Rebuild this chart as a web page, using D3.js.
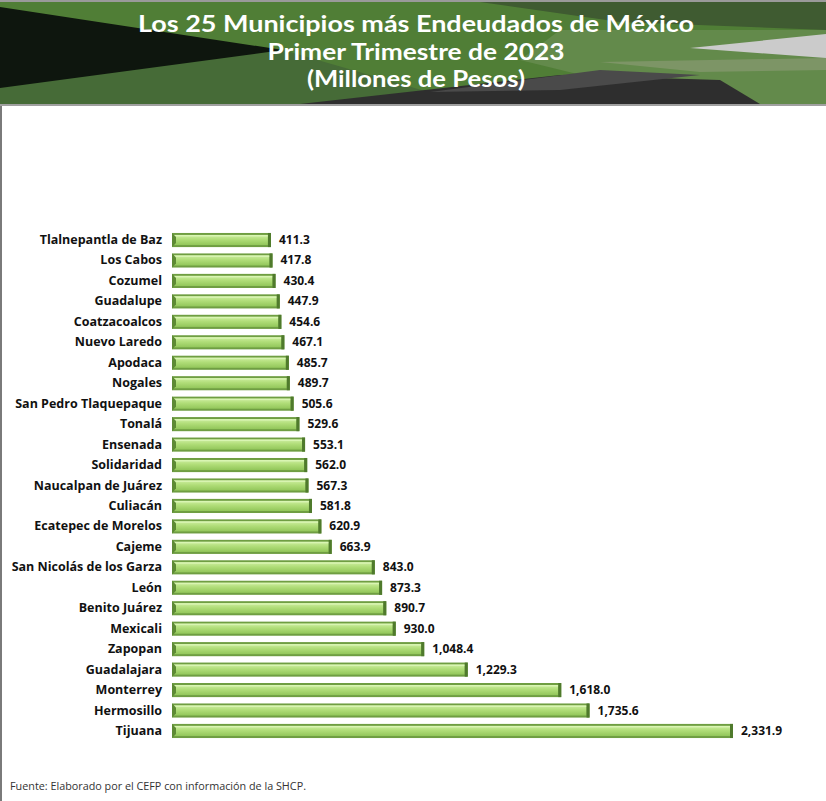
<!DOCTYPE html>
<html><head><meta charset="utf-8">
<script src="https://cdn.jsdelivr.net/npm/d3@7"></script>
<style>
html,body{margin:0;padding:0;background:#fff;}
svg{display:block;}
</style></head>
<body>
<script>
const municipios = ["Tlalnepantla de Baz","Los Cabos","Cozumel","Guadalupe","Coatzacoalcos","Nuevo Laredo","Apodaca","Nogales","San Pedro Tlaquepaque","Tonalá","Ensenada","Solidaridad","Naucalpan de Juárez","Culiacán","Ecatepec de Morelos","Cajeme","San Nicolás de los Garza","León","Benito Juárez","Mexicali","Zapopan","Guadalajara","Monterrey","Hermosillo","Tijuana"];
const deuda = [411.3,417.8,430.4,447.9,454.6,467.1,485.7,489.7,505.6,529.6,553.1,562.0,567.3,581.8,620.9,663.9,843.0,873.3,890.7,930.0,1048.4,1229.3,1618.0,1735.6,2331.9];
const titleLines = ["Los 25 Municipios más Endeudados de México","Primer Trimestre de 2023","(Millones de Pesos)"];
const fuente = "Fuente: Elaborado por el CEFP con información de la SHCP.";

const W = 826, H = 801;
const svg = d3.select("body").append("svg").attr("width", W).attr("height", H);

const defs = svg.append("defs");
const g1 = defs.append("linearGradient").attr("id","barFace").attr("x1",0).attr("y1",0).attr("x2",0).attr("y2",1);
g1.append("stop").attr("offset","0%").attr("stop-color","#cdeea0");
g1.append("stop").attr("offset","45%").attr("stop-color","#b0dd78");
g1.append("stop").attr("offset","100%").attr("stop-color","#92c65a");

// header background
const hdr = svg.append("g");
hdr.append("rect").attr("x",0).attr("y",0).attr("width",W).attr("height",105).attr("fill","#507e36");
hdr.append("rect").attr("x",0).attr("y",0).attr("width",W).attr("height",2).attr("fill","#9a9a9a");
const polys = [
  {p:[[0,52],[283,50],[470,104],[0,104]], c:"#466b37"},
  {p:[[480,2],[826,2],[826,30],[620,22]], c:"#3f5b31"},
  {p:[[560,30],[826,30],[826,104],[700,104],[520,60]], c:"#638a4b"},
  {p:[[690,48],[826,34],[826,58]], c:"#cbcbcb"},
  {p:[[600,62],[826,58],[826,70],[700,72]], c:"#7d9566"},
  {p:[[300,104],[560,75],[720,80],[760,104]], c:"#2e2e2e"},
  {p:[[430,92],[600,70],[700,75],[560,90]], c:"#4a4a4a"},
  {p:[[0,7],[283,50],[0,88]], c:"#0e160e"}
];
polys.forEach(d => hdr.append("polygon").attr("points", d.p.map(q=>q.join(",")).join(" ")).attr("fill", d.c));
hdr.append("rect").attr("x",0).attr("y",104).attr("width",W).attr("height",2).attr("fill","#a0a0a0");

const titleWidths = [556, 297, 218];
hdr.selectAll("text.title").data(titleLines).join("text")
  .attr("class","title")
  .attr("x", 416).attr("y",(d,i)=>32 + i*27.5)
  .attr("text-anchor","middle")
  .attr("font-family","Lato, sans-serif")
  .attr("font-weight",700)
  .attr("font-size",22.5)
  .attr("textLength",(d,i)=>titleWidths[i])
  .attr("lengthAdjust","spacingAndGlyphs")
  .attr("fill","#fff")
  .text(d=>d);

// left border
svg.append("rect").attr("x",0).attr("y",106).attr("width",2).attr("height",H-106).attr("fill","#7a7a7a");

const x = d3.scaleLinear().domain([0, 2331.9]).range([172, 733]);
const y = d3.scaleBand().domain(municipios).range([229.8, 741.2]).paddingInner(0.31).paddingOuter(0.155);

const data = municipios.map((m,i)=>({m, v:deuda[i]}));
const bh = y.bandwidth();

const bars = svg.append("g").selectAll("g").data(data).join("g");
bars.append("rect").attr("x", x(0)).attr("y", d=>y(d.m)).attr("width", d=>x(d.v)-x(0)).attr("height", bh).attr("fill","#6f9e42");
bars.append("rect").attr("x", x(0)+2).attr("y", d=>y(d.m)+2).attr("width", d=>x(d.v)-x(0)-5).attr("height", bh-4).attr("fill","url(#barFace)");
bars.append("rect").attr("x", x(0)+2).attr("y", d=>y(d.m)+2).attr("width", d=>x(d.v)-x(0)-5).attr("height", 1.5).attr("fill","#d9f5b3");
bars.append("rect").attr("x", d=>x(d.v)-3).attr("y", d=>y(d.m)).attr("width", 3).attr("height", bh).attr("fill","#4f7a2c");
bars.append("polygon").attr("points", d=>{const y0=y(d.m); const x0=x(0); return `${x0},${y0} ${x0+4},${y0+4} ${x0+4},${y0+bh-4} ${x0},${y0+bh}`;}).attr("fill","#5d8a34");

// category labels
svg.append("g").selectAll("text").data(data).join("text")
  .attr("x", 162).attr("y", d=>y(d.m)+bh/2+4)
  .attr("text-anchor","end")
  .attr("font-family","'Open Sans', sans-serif")
  .attr("font-weight",700)
  .attr("font-size",12.5)
  .attr("fill","#111")
  .text(d=>d.m);

// value labels
const fmt = d3.format(",.1f");
svg.append("g").selectAll("text").data(data).join("text")
  .attr("x", d=>x(d.v)+8).attr("y", d=>y(d.m)+bh/2+4)
  .attr("font-family","'Open Sans', sans-serif")
  .attr("font-weight",700)
  .attr("font-size",12)
  .attr("fill","#111")
  .text(d=>fmt(d.v));

svg.append("text").attr("x",10).attr("y",790)
  .attr("font-family","'Open Sans', sans-serif")
  .attr("font-size",10.8)
  .attr("fill","#333")
  .text(fuente);
</script>
</body></html>
